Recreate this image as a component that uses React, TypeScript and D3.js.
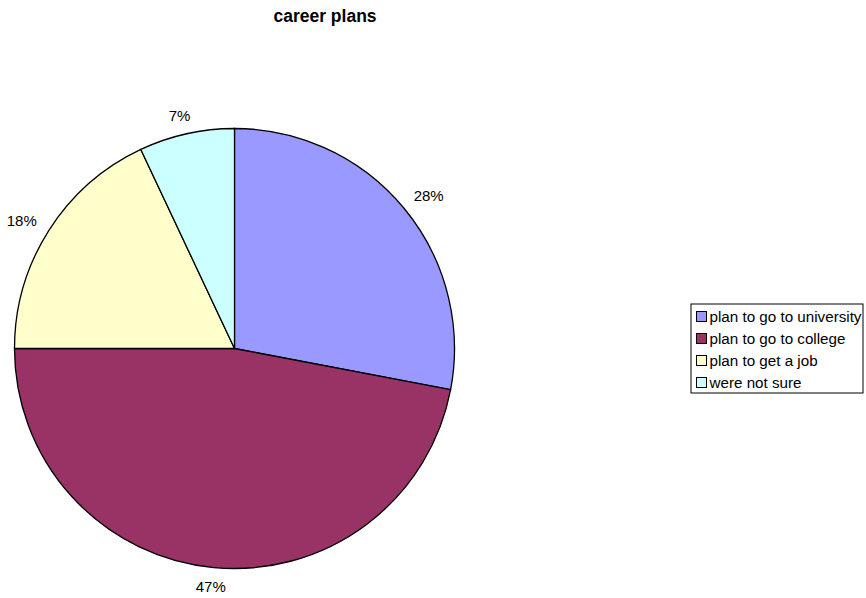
import React from "react";
import * as d3 from "d3";

const categories = [
  "plan to go to university",
  "plan to go to college",
  "plan to get a job",
  "were not sure",
];
const values = [28, 47, 18, 7];
const labels = ["28%", "47%", "18%", "7%"];
const colors = ["#9999FF", "#993366", "#FFFFCC", "#CCFFFF"];

const W = 866;
const H = 598;
const FONT = "'Liberation Sans', Arial, sans-serif";

export default function App() {
  const cx = 234.5;
  const cy = 348.5;
  const r = 220;

  const pie = d3.pie<number>().sort(null).value((d) => d)(values);
  const arc = d3.arc<d3.PieArcDatum<number>>().innerRadius(0).outerRadius(r);

  // labels sit outside the rim, on a slightly flattened ellipse
  const lrx = 252;
  const lry = 239;

  const legendX = 691;
  const legendY = 304;
  const legendW = 172;
  const legendH = 89;
  const rowH = 22;

  return (
    <svg
      width={W}
      height={H}
      style={{ position: "absolute", left: 0, top: 0, background: "#fff" }}
    >
      <text
        x={325}
        y={22}
        textAnchor="middle"
        fontFamily={FONT}
        fontWeight="bold"
        fontSize={17.5}
        fill="#000"
      >
        career plans
      </text>
      <g transform={`translate(${cx},${cy})`}>
        {pie.map((p, i) => (
          <path
            key={i}
            d={arc(p) || ""}
            fill={colors[i]}
            stroke="#000"
            strokeWidth={1.3}
          />
        ))}
        {pie.map((p, i) => {
          const a = (p.startAngle + p.endAngle) / 2;
          const x = Math.sin(a) * lrx;
          const y = -Math.cos(a) * lry;
          return (
            <text
              key={i}
              x={x}
              y={y}
              dy="0.35em"
              textAnchor="middle"
              fontFamily={FONT}
              fontSize={15}
              fill="#000"
            >
              {labels[i]}
            </text>
          );
        })}
      </g>
      <g transform={`translate(${legendX},${legendY})`}>
        <rect
          width={legendW}
          height={legendH}
          fill="#fff"
          stroke="#000"
          strokeWidth={1}
        />
        {categories.map((c, i) => (
          <g key={c} transform={`translate(5,${12.5 + i * rowH})`}>
            <rect
              x={0.5}
              y={-5}
              width={10}
              height={10}
              fill={colors[i]}
              stroke="#000"
              strokeWidth={1}
            />
            <text
              x={13.5}
              y={0}
              dy="0.35em"
              fontFamily={FONT}
              fontSize={15.2}
              fill="#000"
            >
              {c}
            </text>
          </g>
        ))}
      </g>
    </svg>
  );
}
